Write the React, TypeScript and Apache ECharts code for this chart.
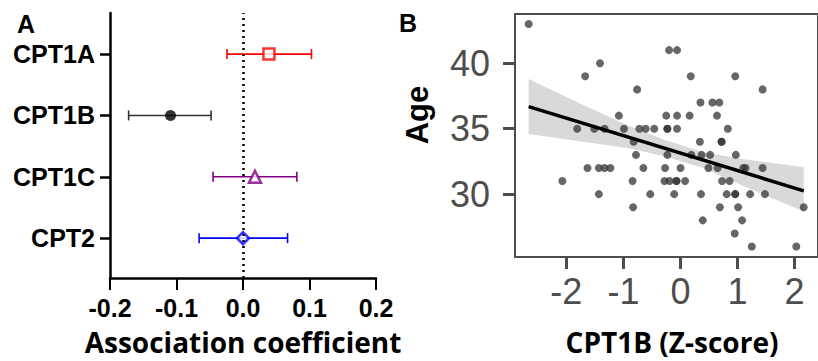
import React, { useEffect, useRef } from "react";
import * as echarts from "echarts";

// Panel A: association coefficients
const genes = ["CPT1A", "CPT1B", "CPT1C", "CPT2"];
const coef = [0.039, -0.109, 0.018, 0.0];
const ciLow = [-0.024, -0.172, -0.045, -0.066];
const ciHigh = [0.103, -0.048, 0.081, 0.067];
const geneColors = ["#ff0000", "#333333", "#800080", "#0000ff"];
const geneSymbols = ["rect", "circle", "triangle", "diamond"];
const xTicksA = [-0.2, -0.1, 0, 0.1, 0.2];

// Panel B: scatter of age vs CPT1B z-score (rows by age)
const ageRows = [43, 41, 40, 39, 38, 37, 36, 35, 34, 33, 32, 31, 30, 29, 28, 27, 26];
const zByAge = [
  [-2.66],
  [-0.2, -0.06],
  [-1.41],
  [-1.67, 0.18, 0.96],
  [-0.76, 1.44],
  [0.35, 0.56, 0.68],
  [-1.08, -0.25, -0.06, 0.16, 0.64],
  [-1.81, -1.51, -1.33, -0.99, -0.72, -0.61, -0.46, -0.23, -0.23, -0.06, 0.83],
  [-0.82, 0.34, 0.72, 0.72],
  [-0.78, -0.23, 0.19, 0.37, 0.52, 0.97],
  [-1.63, -1.43, -1.33, -1.23, -0.65, -0.27, 0.0, 0.49, 0.65, 1.1, 1.14, 1.44],
  [-2.07, -0.84, -0.28, -0.19, -0.07, -0.07, 0.08, 0.73, 0.86],
  [-1.43, -0.53, -0.11, 0.36, 0.81, 0.96, 0.96, 1.22, 1.48],
  [-0.83, 0.69, 1.01, 2.16],
  [0.39, 1.08],
  [0.95],
  [1.25, 2.03],
];
const fitZ = [-2.66, 2.16];
const fitAge = [36.69, 30.25];
const bandZ = [-2.66, -1.77, -0.9, -0.27, 0.4, 1.06, 2.16];
const bandLow = [34.6, 34.05, 33.5, 32.87, 32.0, 30.7, 28.67];
const bandHigh = [38.8, 36.95, 35.2, 34.13, 33.2, 32.7, 32.06];
const zTicks = [-2, -1, 0, 1, 2];
const ageTicks = [30, 35, 40];

export default function App() {
  const ref = useRef<HTMLDivElement>(null);
  useEffect(() => {
    if (!ref.current) return;
    const chart = echarts.init(ref.current, null, { renderer: "svg" });
    const scatterData: number[][] = [];
    ageRows.forEach((a, i) => zByAge[i].forEach((z) => scatterData.push([z, a])));
    const boldA = { fontFamily: "Liberation Sans", fontWeight: "bold", color: "#000", fontSize: 25 };
    const grayB = "#4d4d4d";

    const option: any = {
      animation: false,
      backgroundColor: "#fff",
      grid: [
        { left: 110, top: 13, width: 266, height: 265 },
        { left: 515, top: 14, width: 313, height: 243, show: true, borderColor: grayB, borderWidth: 2, backgroundColor: "transparent" },
      ],
      xAxis: [
        {
          gridIndex: 0, type: "value", min: -0.2, max: 0.2, interval: 0.1,
          axisLine: { show: true, onZero: false, lineStyle: { color: "#000", width: 2.5 } },
          axisTick: { show: true, length: 12, lineStyle: { color: "#000", width: 2 }, customValues: xTicksA },
          axisLabel: { ...boldA, margin: 17, customValues: xTicksA, formatter: (v: number) => v.toFixed(1) },
          splitLine: { show: false },
        },
        {
          gridIndex: 1, type: "value", min: -2.9, max: 2.41,
          axisLine: { show: false, onZero: false },
          axisTick: { show: true, length: 12, customValues: zTicks, lineStyle: { color: grayB, width: 3 } },
          axisLabel: { customValues: zTicks, fontFamily: "Liberation Sans", fontSize: 36, color: grayB, margin: 16 },
          splitLine: { show: false },
        },
      ],
      yAxis: [
        {
          gridIndex: 0, type: "value", min: 0.35, max: 4.67,
          axisLine: { show: true, onZero: false, lineStyle: { color: "#000", width: 2.5 } },
          axisTick: { show: true, length: 10, customValues: [1, 2, 3, 4], lineStyle: { color: "#000", width: 2.5 } },
          axisLabel: { ...boldA, margin: 15, customValues: [1, 2, 3, 4], formatter: (v: number) => genes[4 - Math.round(v)] },
          splitLine: { show: false },
        },
        {
          gridIndex: 1, type: "value", min: 25.2, max: 43.76,
          axisLine: { show: false, onZero: false },
          axisTick: { show: true, length: 12, customValues: ageTicks, lineStyle: { color: grayB, width: 3 } },
          axisLabel: { customValues: ageTicks, fontFamily: "Liberation Sans", fontSize: 36, color: grayB, margin: 25 },
          splitLine: { show: false },
        },
      ],
      series: [
        {
          type: "custom", xAxisIndex: 0, yAxisIndex: 0, z: 2,
          data: genes.map((g, i) => [4 - i, ciLow[i], ciHigh[i]]),
          renderItem: (params: any, api: any) => {
            const y = api.value(0);
            const p1 = api.coord([api.value(1), y]);
            const p2 = api.coord([api.value(2), y]);
            const stroke = geneColors[params.dataIndex];
            const st = { stroke, lineWidth: 1.6 };
            return {
              type: "group",
              children: [
                { type: "line", shape: { x1: p1[0], y1: p1[1], x2: p2[0], y2: p2[1] }, style: st },
                { type: "line", shape: { x1: p1[0], y1: p1[1] - 5, x2: p1[0], y2: p1[1] + 5 }, style: st },
                { type: "line", shape: { x1: p2[0], y1: p2[1] - 5, x2: p2[0], y2: p2[1] + 5 }, style: st },
              ],
            };
          },
        },
        ...genes.map((g, i) => ({
          type: "scatter", xAxisIndex: 0, yAxisIndex: 0, z: 4, name: g,
          data: [[coef[i], 4 - i]],
          symbol: geneSymbols[i],
          symbolSize: i === 1 ? 11 : i === 0 ? 11 : 12,
          itemStyle: i === 1
            ? { color: "#000" }
            : { color: "#fff", borderColor: geneColors[i], borderWidth: 2.5 },
          markLine: i === 3 ? {
            silent: true, symbol: "none", label: { show: false },
            lineStyle: { type: [2, 4], color: "#000", width: 2.5 },
            data: [{ xAxis: 0 }],
          } : undefined,
        })),
        {
          type: "custom", xAxisIndex: 1, yAxisIndex: 1, z: 1,
          data: bandZ.map((z, i) => [z, bandLow[i], bandHigh[i]]),
          renderItem: (params: any, api: any) => {
            if (params.dataIndex !== 0) return null;
            const up = bandZ.map((z, i) => api.coord([z, bandHigh[i]]));
            const lo = bandZ.map((z, i) => api.coord([z, bandLow[i]])).reverse();
            return { type: "polygon", shape: { points: up.concat(lo) }, style: { fill: "#d9d9d9" } };
          },
        },
        {
          type: "scatter", xAxisIndex: 1, yAxisIndex: 1, z: 2,
          data: scatterData, symbolSize: 8,
          itemStyle: { color: "#333333", opacity: 0.75 },
        },
        {
          type: "line", xAxisIndex: 1, yAxisIndex: 1, z: 3,
          data: fitZ.map((z, i) => [z, fitAge[i]]),
          symbol: "none", lineStyle: { color: "#000", width: 3.5 },
        },
      ],
      graphic: [
        { type: "text", x: 17, y: 24, style: { text: "A", font: "bold 25px 'Liberation Sans'", fill: "#000", align: "left", verticalAlign: "middle" } },
        { type: "text", x: 399, y: 23, style: { text: "B", font: "bold 25px 'Liberation Sans'", fill: "#000", align: "left", verticalAlign: "middle" } },
        { type: "text", x: 243, y: 342, style: { text: "Association coefficient", font: "bold 28px 'Open Sans'", fill: "#000", align: "center", verticalAlign: "middle" } },
        { type: "text", x: 672, y: 342, style: { text: "CPT1B (Z-score)", font: "bold 28px 'Open Sans'", fill: "#000", align: "center", verticalAlign: "middle" } },
        { type: "text", x: 417, y: 115, rotation: Math.PI / 2, style: { text: "Age", font: "bold 31px 'Liberation Sans'", fill: "#000", align: "center", verticalAlign: "middle" } },
      ],
    };
    chart.setOption(option);
    return () => chart.dispose();
  }, []);
  return <div ref={ref} style={{ position: "absolute", left: 0, top: 0, width: 818, height: 361, background: "#fff" }} />;
}
